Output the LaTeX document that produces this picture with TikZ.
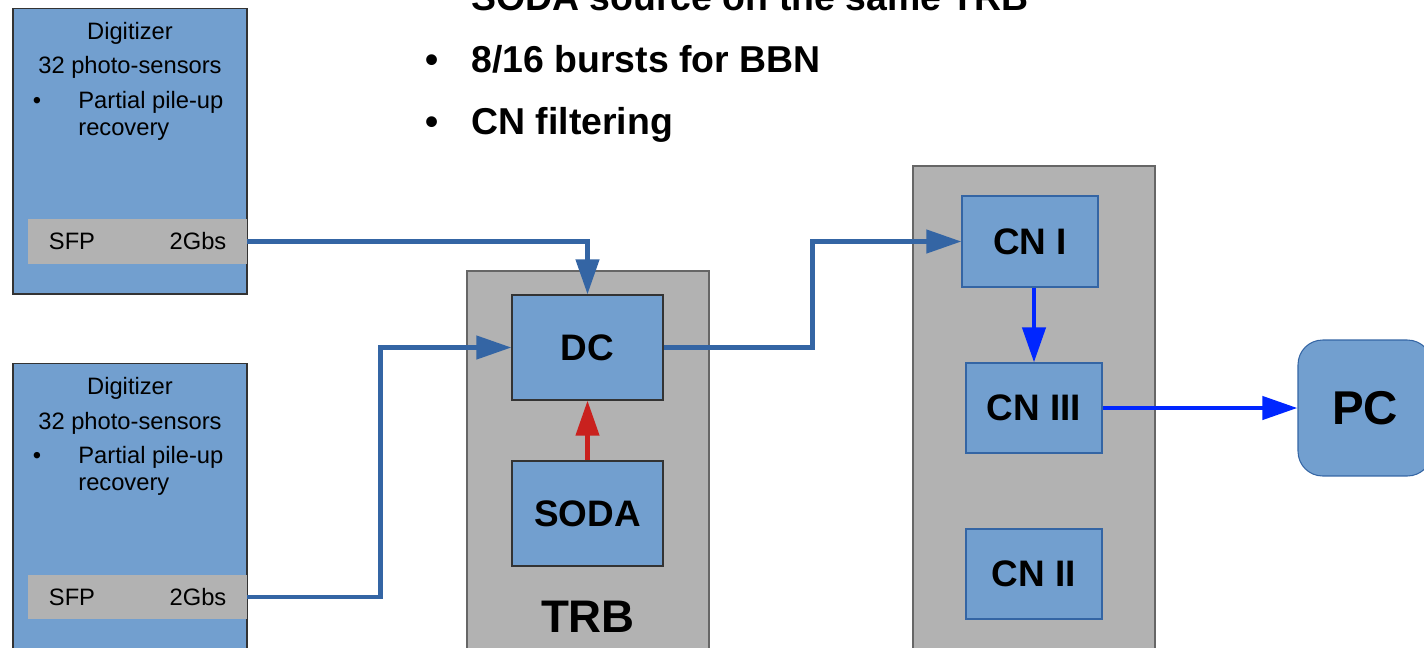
\documentclass[tikz,border=0pt]{standalone}
\usepackage{fontspec}
\setmainfont{Liberation Sans}
\usetikzlibrary{calc}
\usetikzlibrary{arrows.meta}

\definecolor{boxblue}{RGB}{114,159,207}
\definecolor{boxgray}{RGB}{178,178,178}
\definecolor{linkblue}{RGB}{52,101,164}
\definecolor{sodared}{RGB}{201,33,30}
\definecolor{cnblue}{RGB}{0,38,255}

\begin{document}
\begin{tikzpicture}[x=0.02cm, y=-0.02cm,
    smalltxt/.style={font=\fontsize{13.5}{16}\selectfont, inner sep=0pt},
    bigtxt/.style={font=\fontsize{21.3}{25}\selectfont\bfseries, inner sep=0pt},
    digi/.style={rectangle, draw=black!80, fill=boxblue, line width=0.6pt, minimum width=4.68cm},
    sfpbar/.style={rectangle, fill=boxgray, minimum width=4.38cm, minimum height=0.89cm},
    holder/.style={rectangle, draw=black!60, fill=boxgray, line width=0.8pt, minimum width=4.84cm},
    unit/.style={rectangle, draw=black!80, fill=boxblue, line width=0.6pt, font=\fontsize{21}{25}\selectfont\bfseries},
    cnunit/.style={rectangle, draw=linkblue, fill=boxblue, line width=0.6pt, minimum width=2.72cm, minimum height=1.8cm, font=\fontsize{21}{25}\selectfont\bfseries},
    link/.style={draw=linkblue, line width=2.8pt, -{Triangle[length=20pt,width=13pt]}}]
    \useasboundingbox (0,0) rectangle (1424,647);

    % top bullets
    \node[bigtxt, anchor=base west] at (471,10) (soda-src) {SODA source on the same TRB};
    \node[bigtxt, anchor=base] at (432,72) (bulB) {•};
    \node[bigtxt, anchor=base west] at (471,72) (bursts) {8/16 bursts for BBN};
    \node[bigtxt, anchor=base] at (432,134) (bulC) {•};
    \node[bigtxt, anchor=base west] at (471,134) (filter) {CN filtering};

    % digitizers
    \node[digi, minimum height=5.72cm] at (130,151) (digA) {};
    \node[smalltxt, anchor=base] at (130,39.5) (digA-title) {Digitizer};
    \node[smalltxt, anchor=base] at (130,73.5) (digA-sens) {32 photo-sensors};
    \node[smalltxt, anchor=base] at (37,108.5) (digA-bul) {•};
    \node[smalltxt, anchor=base west] at (78,108.5) (digA-pile) {Partial pile-up};
    \node[smalltxt, anchor=base west] at (78,135.5) (digA-rec) {recovery};
    \node[sfpbar] at (137.5,241.5) (sfpA) {};
    \node[smalltxt, anchor=base] at (72,249.5) (sfpA-l) {SFP};
    \node[smalltxt, anchor=base] at (198,249.5) (sfpA-r) {2Gbs};

    \node[digi, minimum height=5.94cm] at (130,511.5) (digB) {};
    \node[smalltxt, anchor=base] at (130,394.5) (digB-title) {Digitizer};
    \node[smalltxt, anchor=base] at (130,429) (digB-sens) {32 photo-sensors};
    \node[smalltxt, anchor=base] at (37,463.5) (digB-bul) {•};
    \node[smalltxt, anchor=base west] at (78,463.5) (digB-pile) {Partial pile-up};
    \node[smalltxt, anchor=base west] at (78,490.5) (digB-rec) {recovery};
    \node[sfpbar] at (137.5,597) (sfpB) {};
    \node[smalltxt, anchor=base] at (72,605.5) (sfpB-l) {SFP};
    \node[smalltxt, anchor=base] at (198,605.5) (sfpB-r) {2Gbs};

    % TRB
    \node[holder, minimum height=7.78cm] at (588,465.5) (trb) {};
    \node[unit, minimum width=3.02cm, minimum height=2.1cm] at (587.5,347.5) (dc) {DC};
    \node[unit, minimum width=3.02cm, minimum height=2.1cm] at (587.5,513.5) (soda) {SODA};
    \node[font=\fontsize{26}{30}\selectfont\bfseries, inner sep=0pt, anchor=base] at (588,632.5) (trb-label) {TRB};

    % compute nodes
    \node[holder, minimum height=9.88cm] at (1034,413) (cn) {};
    \node[cnunit, minimum height=1.82cm] at (1030,241.5) (cn1) {CN I};
    \node[cnunit] at (1034,408) (cn3) {CN III};
    \node[cnunit] at (1034,574) (cn2) {CN II};

    \node[rectangle, rounded corners=14pt, draw=linkblue, fill=boxblue, line width=0.6pt, minimum width=2.68cm, minimum height=2.72cm, font=\fontsize{27}{31}\selectfont\bfseries, text depth=0pt] at (1365,408) (pc) {PC};

    % links
    \draw[link] (sfpA.east) -| (dc.north);
    \draw[link] (sfpB.east) -- ($(sfpB.east)+(133,0)$) |- (dc.west);
    \draw[link] (dc.east) -- ($(dc.east)+(149,0)$) |- (cn1.west);
    \draw[link, draw=sodared] (soda.north) -- (dc.south);
    \draw[link, draw=cnblue] (cn3.north |- cn1.south) -- (cn3.north);
    \draw[link, draw=cnblue] (cn3.east) -- (pc.west);
\end{tikzpicture}
\end{document}
